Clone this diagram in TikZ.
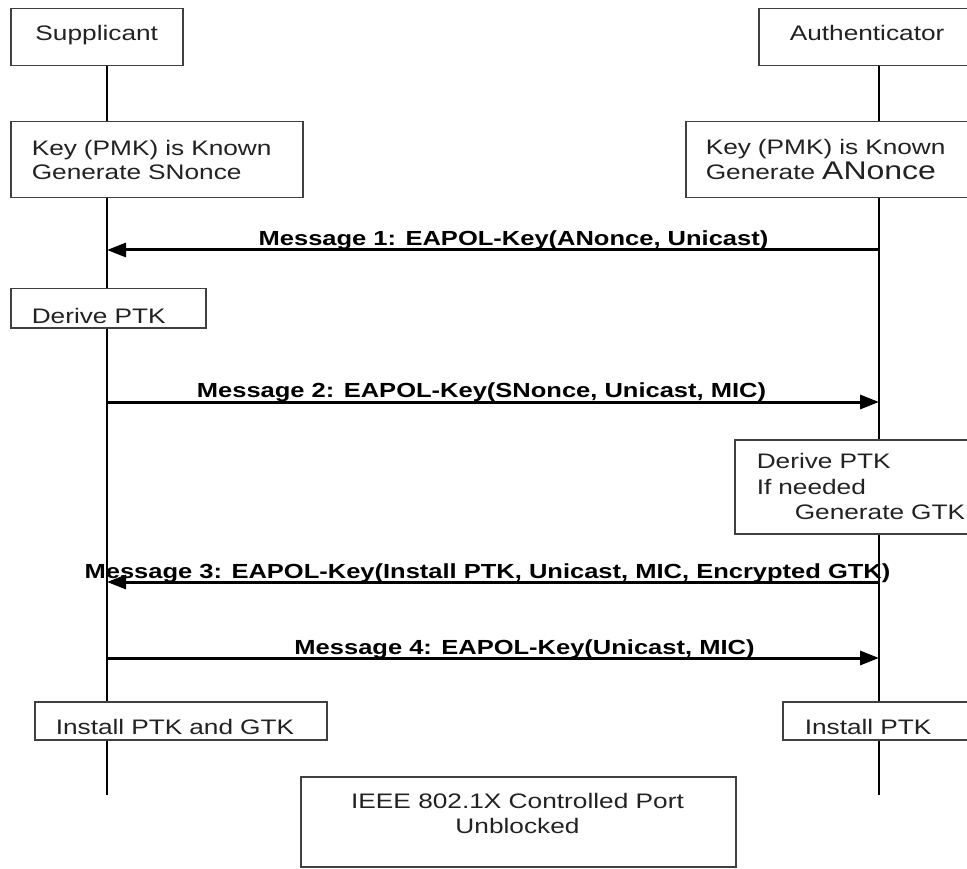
\documentclass[tikz,border=0pt]{standalone}
\usepackage{fontspec}
\setmainfont{Liberation Sans}[FakeStretch=1.25]
\usetikzlibrary{arrows.meta}
\definecolor{boxline}{HTML}{404040}
\definecolor{txtcol}{HTML}{222222}
\newcommand{\boxfont}{\fontsize{21}{24.5}\selectfont}
\newcommand{\bigfont}{\fontsize{25.6}{27}\selectfont}
\newcommand{\msgfont}{\fontsize{20.4}{24}\selectfont\bfseries}
\begin{document}
\begin{tikzpicture}[x=1pt,y=-1pt,
  box/.style={draw=boxline, line width=1.5pt, fill=white, rectangle, anchor=north west,
              inner ysep=0pt, font=\boxfont, text=txtcol},
  lbox/.style={box, align=left},
  life/.style={line width=2.6pt, black},
  msg/.style={line width=3pt, black, -{Triangle[length=19pt,width=14pt]}},
  lbl/.style={font=\msgfont, inner sep=0pt, anchor=base, text=black},
  ptxt/.style={font=\boxfont, inner sep=0pt, align=center, text=txtcol}]
\useasboundingbox (0,0) rectangle (967,869);
\fill[white] (0,0) rectangle (967,869);
\clip (0,0) rectangle (967,869);

% lifeline positions
\coordinate (lx) at (107,0);
\coordinate (rx) at (879,0);
\coordinate (lend) at (107,795);
\coordinate (rend) at (879,795);

% boxes
\node[box, minimum width=172pt, inner xsep=0pt, text height=31.5pt, text depth=25.5pt] (sup) at (10,8) {Supplicant};
\node[lbox, text width=155pt, inner xsep=31pt, text height=31.5pt, text depth=25.5pt] (auth) at (758,8) {Authenticator};
\node[lbox, text width=250pt, inner xsep=21pt, minimum height=76pt] (keyl) at (10,121) {Key (PMK) is Known\\Generate SNonce};
\node[lbox, text width=250pt, inner xsep=20pt, minimum height=76pt] (keyr) at (685,121) {Key (PMK) is Known\\[1pt]Generate {\bigfont ANonce}};
\node[lbox, text width=153pt, inner xsep=21pt, text height=34.5pt, text depth=4.5pt] (dpl) at (10,288) {Derive PTK};
\node[lbox, text width=240pt, inner xsep=22pt, minimum height=94pt, font=\fontsize{21}{25.5}\selectfont] (dpr) at (734,439) {Derive PTK\\If needed\\\hspace*{38pt}Generate GTK};
\node[lbox, text width=250pt, inner xsep=21pt, text height=32.5pt, text depth=5.5pt] (instl) at (34,701) {Install PTK and GTK};
\node[lbox, text width=149pt, inner xsep=22pt, text height=32.5pt, text depth=5.5pt] (instr) at (782,701) {Install PTK};
\node[box, minimum width=435pt, minimum height=90pt, inner xsep=0pt] (port) at (300,776) {};
\node[ptxt, font=\fontsize{21}{25}\selectfont] (porttxt) at (517.5,813.5) {IEEE 802.1X Controlled Port\\Unblocked};

% lifelines
\draw[life] (sup.south -| lx) -- (keyl.north -| lx);
\draw[life] (keyl.south -| lx) -- (dpl.north -| lx);
\draw[life] (dpl.south -| lx) -- (instl.north -| lx);
\draw[life] (instl.south -| lx) -- (lend);
\draw[life] (auth.south -| rx) -- (keyr.north -| rx);
\draw[life] (keyr.south -| rx) -- (dpr.north -| rx);
\draw[life] (dpr.south -| rx) -- (instr.north -| rx);
\draw[life] (instr.south -| rx) -- (rend);

% messages
\coordinate (m1a) at (879,250); \coordinate (m1b) at (107,250);
\coordinate (m2a) at (107,402); \coordinate (m2b) at (879,402);
\coordinate (m3a) at (879,582); \coordinate (m3b) at (107,582);
\coordinate (m4a) at (107,658); \coordinate (m4b) at (879,658);
\draw[msg] (m1a) -- (m1b);
\draw[msg] (m2a) -- (m2b);
\draw[msg] (m3a) -- (m3b);
\draw[msg] (m4a) -- (m4b);
\node[lbl] (m1t) at (513.5,246) {Message 1: EAPOL-Key(ANonce, Unicast)};
\node[lbl] (m2t) at (481.5,397) {Message 2: EAPOL-Key(SNonce, Unicast, MIC)};
\node[lbl] (m3t) at (487.5,578) {Message 3: EAPOL-Key(Install PTK, Unicast, MIC, Encrypted GTK)};
\node[lbl] (m4t) at (524.5,654) {Message 4: EAPOL-Key(Unicast, MIC)};
\end{tikzpicture}
\end{document}
